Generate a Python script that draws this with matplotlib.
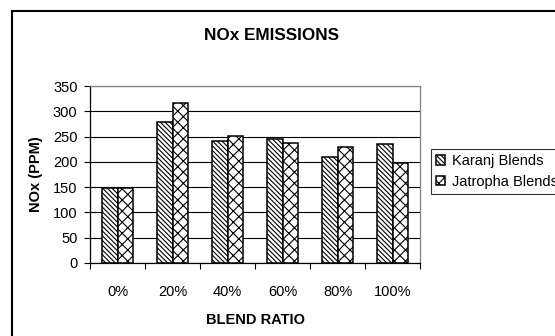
import matplotlib.pyplot as plt
import numpy as np
from matplotlib.lines import Line2D

plt.rcParams['font.family'] = ['Liberation Sans', 'DejaVu Sans']
plt.rcParams['hatch.linewidth'] = 0.8

# NOx readings (ppm) for each blend ratio
blend_ratio = ['0%', '20%', '40%', '60%', '80%', '100%']
karanj = [148, 278, 242, 246, 210, 235]
jatropha = [148, 316, 252, 238, 229, 197]

fig = plt.figure(figsize=(5.55, 3.36), dpi=100)

# outer chart border (left and top edges visible)
fig.add_artist(Line2D([12 / 555, 12 / 555], [0, 1 - 11 / 336], color='black', lw=1.5))
fig.add_artist(Line2D([12 / 555, 1], [1 - 11 / 336, 1 - 11 / 336], color='black', lw=1.5))

ax = fig.add_axes([90 / 555, 73 / 336, 330 / 555, 177 / 336])

x = np.arange(len(blend_ratio))
w = 0.29
ax.bar(x - w / 2, karanj, w, color='white', edgecolor='black', hatch='\\\\\\\\\\\\\\',
       linewidth=1.1, label='Karanj Blends', zorder=3)
ax.bar(x + w / 2, jatropha, w, color='white', edgecolor='black', hatch='xxx',
       linewidth=1.1, label='Jatropha Blends', zorder=3)

ax.set_xlim(-0.5, len(blend_ratio) - 0.5)
ax.set_ylim(0, 350)
ax.set_yticks(range(0, 351, 50))
ax.yaxis.grid(True, color='black', linewidth=0.8)
ax.set_axisbelow(True)

# category labels centred, tick marks between categories
ax.set_xticks(x)
ax.set_xticklabels(blend_ratio, fontsize=10.5)
ax.set_xticks(np.arange(-0.5, len(blend_ratio)), minor=True)
ax.tick_params(axis='x', which='major', length=0, pad=16)
ax.tick_params(axis='x', which='minor', length=4, direction='out', width=0.8)
ax.tick_params(axis='y', length=4, width=0.8, labelsize=10.5, pad=5)

for side in ['left', 'bottom']:
    ax.spines[side].set_color('black')
    ax.spines[side].set_linewidth(0.9)
for side in ['top', 'right']:
    ax.spines[side].set_color('#808080')
    ax.spines[side].set_linewidth(0.9)

ax.set_xlabel('BLEND RATIO', fontsize=10.5, fontweight='bold', labelpad=10)
ax.set_ylabel('NOx (PPM)', fontsize=10.5, fontweight='bold', labelpad=7)
fig.text(272 / 555, 1 - 35 / 336, 'NOx EMISSIONS', ha='center', va='center',
         fontsize=12.3, fontweight='bold')

leg = fig.legend(loc='upper left', bbox_to_anchor=(431 / 555, 1 - 149 / 336),
                 fontsize=10.5, frameon=True, fancybox=False, edgecolor='black',
                 handlelength=0.6, handleheight=0.6, handletextpad=0.5,
                 borderpad=0.35, labelspacing=0.45, borderaxespad=0)
leg.get_frame().set_linewidth(0.8)

plt.savefig('out.png', dpi=100)
plt.close()
